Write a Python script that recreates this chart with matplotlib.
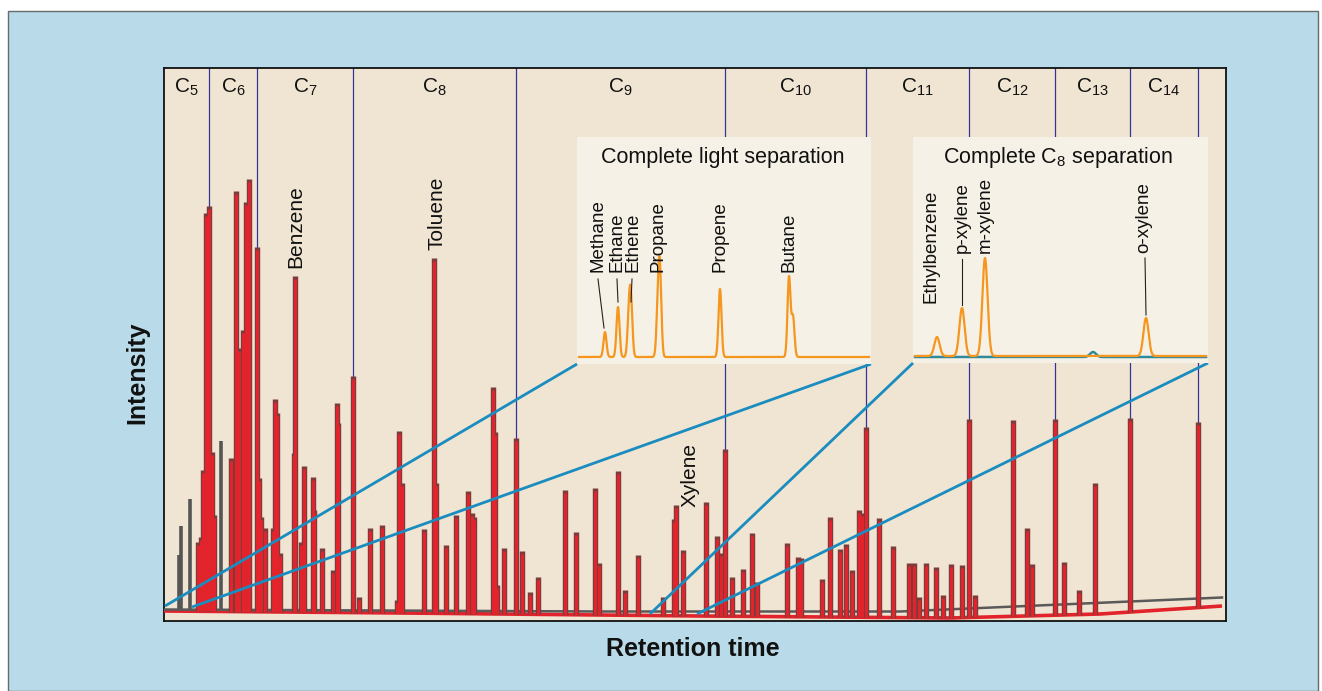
import numpy as np
import matplotlib
matplotlib.use("Agg")
import matplotlib.pyplot as plt
from matplotlib.patches import Rectangle

plt.rcParams['font.family'] = ['Liberation Sans', 'DejaVu Sans']
plt.rcParams['mathtext.default'] = 'regular'

W, H = 1322, 691

# ---------------- data (retention time / intensity in arbitrary units) ----------------
red_rt = [198, 201, 203, 206, 209, 212, 214, 231, 236, 239, 243, 246, 249, 257, 259, 261, 265,
          273, 275, 277, 280, 294, 295, 301, 304, 313, 314, 322, 333, 337, 338, 353, 359, 370,
          382, 397, 399, 402, 424, 434, 436, 446, 456, 468, 472, 474, 493, 495, 497, 504, 516,
          522, 530, 538, 565, 576, 595, 599, 618, 625, 638, 663, 674, 676, 683, 706, 717, 721,
          725, 732, 743, 752, 757, 787, 798, 801, 822, 830, 840, 846, 852, 859, 862, 866, 879,
          893, 909, 914, 919, 926, 936, 943, 951, 962, 969, 975, 1013, 1027, 1032, 1055, 1064,
          1079, 1095, 1130, 1198]
red_int = [79, 84, 151, 408, 415, 169, 106, 163, 430, 273, 291, 419, 442, 374, 143, 104, 93,
           93, 222, 208, 68, 168, 345, 79, 155, 144, 111, 73, 51, 218, 198, 245, 24, 93,
           96, 21, 190, 138, 92, 363, 138, 76, 106, 130, 108, 104, 234, 189, 36, 73, 183,
           70, 29, 44, 131, 89, 133, 58, 150, 31, 66, 24, 102, 116, 71, 119, 85, 68,
           172, 44, 52, 88, 39, 78, 64, 63, 42, 104, 72, 77, 51, 111, 108, 194, 103,
           75, 58, 58, 24, 58, 54, 26, 57, 56, 202, 26, 201, 93, 57, 202, 59,
           31, 138, 203, 199]
grey_rt = [179, 181, 190, 221]
grey_int = [66, 95, 122, 180]

red_base_rt = [164, 400, 700, 950, 1100, 1222]
red_base_int = [10, 8, 5, 3, 7, 15]
grey_base_rt = [164, 600, 900, 1222]
grey_base_int = [10, 8, 8, 22]

carbon_labels = ['C$_{5}$', 'C$_{6}$', 'C$_{7}$', 'C$_{8}$', 'C$_{9}$', 'C$_{10}$',
                 'C$_{11}$', 'C$_{12}$', 'C$_{13}$', 'C$_{14}$']
carbon_bounds = [164, 209, 257, 353, 516, 725, 866, 969, 1055, 1130, 1198]

main_names = ['Benzene', 'Toluene', 'Xylene']
main_name_rt = [296, 437, 690]
main_name_y = [353, 371, 114]

# light separation inset
light_names = ['Methane', 'Ethane', 'Ethene', 'Propane', 'Propene', 'Butane']
light_label_x = [598, 617, 633, 658, 720, 789]
light_peak_rt = [605, 618, 629, 631, 658, 660, 720, 789, 793]
light_peak_h = [25, 50, 40, 50, 49, 75, 68, 80, 40]
light_base = 7

# C8 separation inset
c8_names = ['Ethylbenzene', 'p-xylene', 'm-xylene', 'o-xylene']
c8_label_x = [931, 962, 985, 1144]
c8_label_y = [60, 110, 110, 110]
c8_peak_rt = [937, 962, 985, 1146]
c8_peak_h = [19, 48, 98, 38]
c8_teal_rt = [1093]
c8_teal_h = [5]
c8_base = 7

# ---------------- figure ----------------
fig = plt.figure(figsize=(W / 100, H / 100), dpi=100)
fig.patch.set_facecolor('white')
panel = Rectangle((8 / W, 0), (W - 12) / W, 1 - 11 / H, transform=fig.transFigure,
                  facecolor='#b8dae9', edgecolor='#6a6a6a', lw=1.0, zorder=-10)
fig.add_artist(panel)


def fig_rect(x0, y0, x1, y1):
    return [x0 / W, 1 - y1 / H, (x1 - x0) / W, (y1 - y0) / H]


ax = fig.add_axes(fig_rect(164, 68, 1226, 621))
ax.set_zorder(1)
ax.set_facecolor('#f0e5d2')
ax.set_xlim(164, 1226)
ax.set_ylim(0, 553)
ax.set_xticks([])
ax.set_yticks([])
for s in ax.spines.values():
    s.set_color('#111111')
    s.set_linewidth(1.3)

# carbon-number bands
for i, lab in enumerate(carbon_labels):
    xc = (carbon_bounds[i] + carbon_bounds[i + 1]) / 2
    ax.text(xc, 534, lab, ha='center', va='center', fontsize=15, color='#111111')

red_rt_a = np.array(red_rt, float)
red_int_a = np.array(red_int, float)
for xb in carbon_bounds[1:]:
    top = red_int_a[np.abs(red_rt_a - xb) < 1.5].max()
    ax.plot([xb, xb], [553, top], color='#33339a', lw=0.9, zorder=2)

# baselines
ax.plot(red_base_rt, red_base_int, color='#e3232b', lw=2.6, zorder=3, solid_capstyle='butt')
ax.plot(grey_base_rt, np.array(grey_base_int) + 1.5, color='#5a5a5a', lw=1.8, zorder=3.2)

# grey peaks
gb = np.interp(grey_rt, grey_base_rt, grey_base_int)
ax.vlines(grey_rt, gb, grey_int, color='#555555', lw=2.6, zorder=3)

# red peaks
rb = np.interp(red_rt, red_base_rt, red_base_int)
ax.vlines(red_rt, rb, red_int_a, color='#7d3b3b', lw=3.9, zorder=4)
ax.vlines(red_rt, rb, red_int_a - 3, color='#e5232c', lw=2.1, zorder=4.1)

# compound labels in main chart
for name, x, y in zip(main_names, main_name_rt, main_name_y):
    ax.text(x, y, name, rotation=90, ha='center', va='bottom', fontsize=15, color='#111111',
            zorder=5)

# blue zoom connectors
blue = '#1a8cbf'
for (x0, y0), (x1, y1) in [((165, 15), (577, 257)), ((192, 14), (871, 257)),
                           ((650, 7), (913, 258)), ((697, 7), (1208, 258))]:
    ax.plot([x0, x1], [y0, y1], color=blue, lw=2.0, zorder=6, clip_on=False,
            solid_capstyle='butt')

fig.text(693 / W, 1 - 649 / H, 'Retention time', ha='center', va='center', fontsize=18,
         fontweight='bold', color='#111111')
fig.text(137 / W, 1 - 373 / H, 'Intensity', ha='center', va='center', rotation=90,
         fontsize=18, fontweight='bold', color='#111111')

orange = '#f5961e'


def chrom(xs, rts, hs, base, width):
    y = np.full_like(xs, base, dtype=float)
    for r, h in zip(rts, hs):
        y += h * np.exp(-0.5 * ((xs - r) / width) ** 2)
    return y


# ---- inset 1: light separation ----
a1 = fig.add_axes(fig_rect(577, 137, 871, 364))
a1.set_zorder(2)
a1.set_facecolor('#f6f1e6')
a1.set_xlim(577, 871)
a1.set_ylim(0, 227)
a1.set_xticks([])
a1.set_yticks([])
for s in a1.spines.values():
    s.set_visible(False)
xs = np.linspace(579, 869, 1200)
a1.plot(xs, chrom(xs, light_peak_rt, light_peak_h, light_base, 1.5), color=orange, lw=1.6)
a1.text(723, 207, 'Complete light separation', ha='center', va='center', fontsize=15.5,
        color='#111111')
for name, x in zip(light_names, light_label_x):
    a1.text(x, 92, name, rotation=90, ha='center', va='bottom', fontsize=13.5, color='#111111')
for (x0, y0), (x1, y1) in [((598, 85), (604, 36)), ((617, 85), (618, 62)), ((632, 85), (631, 62))]:
    a1.plot([x0, x1], [y0, y1], color='#222222', lw=0.8)

# ---- inset 2: C8 separation ----
a2 = fig.add_axes(fig_rect(913, 137, 1208, 363))
a2.set_zorder(2)
a2.set_facecolor('#f6f1e6')
a2.set_xlim(913, 1208)
a2.set_ylim(0, 226)
a2.set_xticks([])
a2.set_yticks([])
for s in a2.spines.values():
    s.set_visible(False)
xs2 = np.linspace(915, 1206, 1200)
a2.plot(xs2, chrom(xs2, c8_teal_rt, c8_teal_h, c8_base - 1, 3.0), color='#2f8a9c', lw=1.8)
a2.plot(xs2, chrom(xs2, c8_peak_rt, c8_peak_h, c8_base, 2.6), color=orange, lw=1.6)
a2.text(1058, 206, 'Complete C$_{8}$ separation', ha='center', va='center', fontsize=15.5,
        color='#111111')
for name, x, y in zip(c8_names, c8_label_x, c8_label_y):
    a2.text(x, y, name, rotation=90, ha='center', va='bottom', fontsize=13.5, color='#111111')
for (x0, y0), (x1, y1) in [((962, 104), (962, 58)), ((1145, 105), (1146, 48))]:
    a2.plot([x0, x1], [y0, y1], color='#222222', lw=0.8)

fig.savefig('out.png', dpi=100)
